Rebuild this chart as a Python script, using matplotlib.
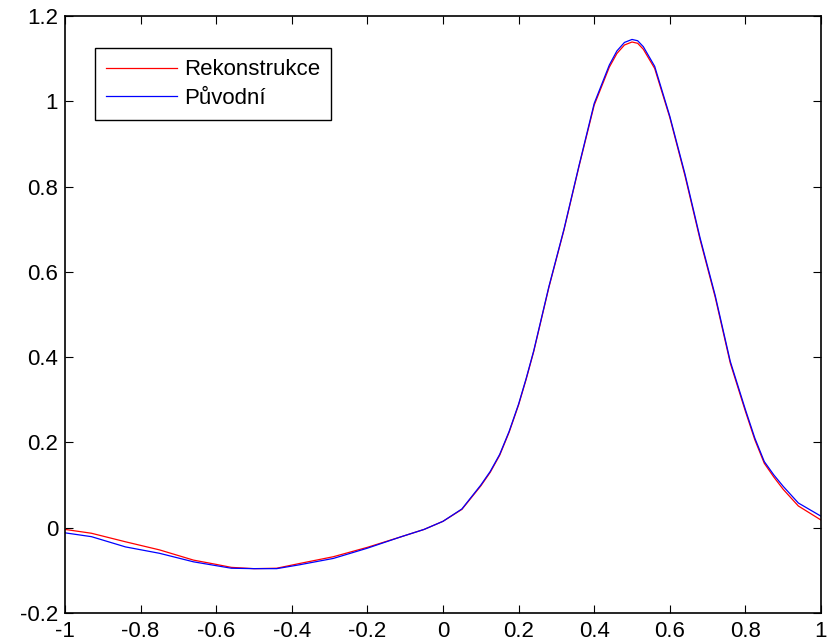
import numpy as np
import matplotlib
matplotlib.use('Agg')
import matplotlib.pyplot as plt

plt.rcParams['font.family'] = ['Liberation Sans', 'DejaVu Sans']

# hodnoty
x = [-1.0, -0.93, -0.84, -0.75, -0.66, -0.6, -0.56, -0.5, -0.44, -0.38,
     -0.29, -0.2, -0.11, -0.05, 0.0, 0.05, 0.1, 0.125, 0.15, 0.175,
     0.2, 0.22, 0.24, 0.26, 0.28, 0.32, 0.36, 0.4, 0.44, 0.46,
     0.48, 0.5, 0.515, 0.53, 0.56, 0.6, 0.64, 0.68, 0.72, 0.76,
     0.8, 0.825, 0.85, 0.875, 0.9, 0.94, 1.0]

puvodni = [-0.012, -0.021, -0.045, -0.060, -0.080, -0.089, -0.095, -0.096, -0.096, -0.087,
           -0.072, -0.048, -0.021, -0.004, 0.015, 0.044, 0.100, 0.132, 0.172, 0.226,
           0.290, 0.350, 0.415, 0.490, 0.565, 0.700, 0.850, 0.995, 1.085, 1.118,
           1.138, 1.145, 1.142, 1.128, 1.082, 0.965, 0.830, 0.680, 0.545, 0.390,
           0.277, 0.210, 0.155, 0.124, 0.097, 0.058, 0.027]

rekonstrukce = [-0.004, -0.013, -0.033, -0.052, -0.076, -0.086, -0.093, -0.096, -0.095, -0.084,
                -0.068, -0.046, -0.021, -0.004, 0.015, 0.043, 0.098, 0.130, 0.170, 0.224,
                0.288, 0.348, 0.413, 0.488, 0.563, 0.698, 0.848, 0.991, 1.080, 1.112,
                1.132, 1.139, 1.136, 1.122, 1.077, 0.962, 0.826, 0.676, 0.541, 0.386,
                0.273, 0.206, 0.151, 0.119, 0.090, 0.051, 0.018]

xticks = [-1, -0.8, -0.6, -0.4, -0.2, 0, 0.2, 0.4, 0.6, 0.8, 1]
xlabels = ['-1', '-0.8', '-0.6', '-0.4', '-0.2', '0', '0.2', '0.4', '0.6', '0.8', '1']
yticks = [-0.2, 0, 0.2, 0.4, 0.6, 0.8, 1.0, 1.2]
ylabels = ['-0.2', '0', '0.2', '0.4', '0.6', '0.8', '1', '1.2']

fig = plt.figure(figsize=(8.35, 6.44), dpi=100)
ax = fig.add_axes([65 / 835, 31 / 644, 756 / 835, 597 / 644])

ax.plot(x, rekonstrukce, color='red', lw=0.9, label='Rekonstrukce')
ax.plot(x, puvodni, color='blue', lw=0.9, label='Původní')

ax.set_xlim(-1, 1)
ax.set_ylim(-0.2, 1.2)
ax.set_xticks(xticks)
ax.set_xticklabels(xlabels)
ax.set_yticks(yticks)
ax.set_yticklabels(ylabels)
ax.tick_params(direction='in', length=5.5, width=0.8, labelsize=16,
               top=True, right=True)
ax.tick_params(axis='x', pad=6)
ax.tick_params(axis='y', pad=5)
for s in ax.spines.values():
    s.set_linewidth(1.2)

leg = ax.legend(loc='upper left', bbox_to_anchor=(0.0397, 0.946),
                borderaxespad=0, fontsize=16, fancybox=False,
                edgecolor='black', framealpha=1, handlelength=3.2,
                handletextpad=0.3, labelspacing=0.35, borderpad=0.5)
leg.get_frame().set_linewidth(1.0)

fig.savefig('out.png', dpi=100)
